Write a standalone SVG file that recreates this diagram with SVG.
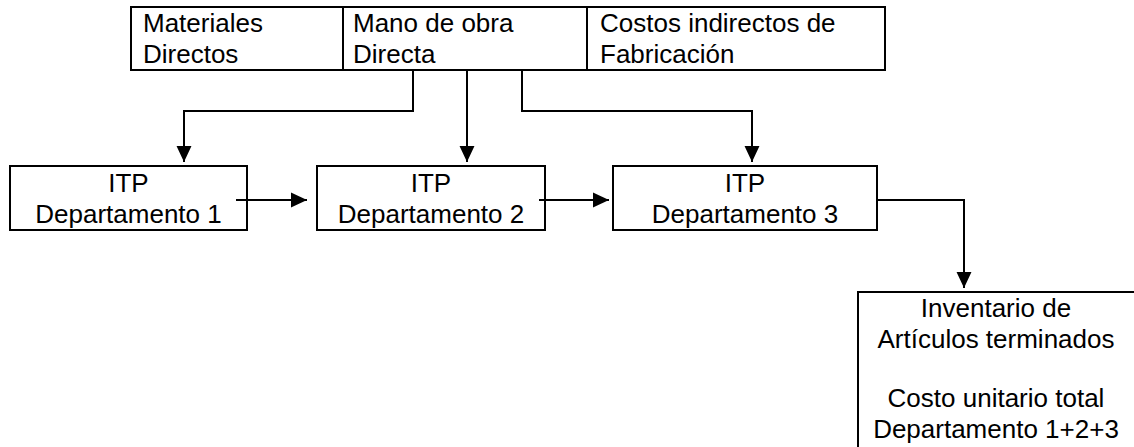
<svg xmlns="http://www.w3.org/2000/svg" width="1134" height="447" viewBox="0 0 1134 447">
<style>
.box{fill:#fff;stroke:#000;stroke-width:2}
.t{font-family:"Liberation Sans",Arial,sans-serif;font-size:26px;fill:#000}
.c{text-anchor:middle}
.ln{fill:none;stroke:#000;stroke-width:2}
</style>
<defs>
<marker id="ah" markerUnits="userSpaceOnUse" markerWidth="16" markerHeight="16" viewBox="0 0 15 14" refX="15" refY="7" orient="auto">
<path d="M0,0 L15,7 L0,14 Z" fill="#000"/>
</marker>
</defs>
<rect width="1134" height="447" fill="#fff"/>
<g id="top">
<rect class="box" x="131" y="7" width="754" height="63"/>
<line class="ln" x1="343" y1="7" x2="343" y2="70"/>
<line class="ln" x1="587" y1="7" x2="587" y2="70"/>
<text class="t" x="143" y="32">Materiales</text>
<text class="t" x="143" y="63">Directos</text>
<text class="t" x="353" y="32">Mano de obra</text>
<text class="t" x="353" y="63">Directa</text>
<text class="t" x="600" y="32">Costos indirectos de</text>
<text class="t" x="600" y="63">Fabricación</text>
</g>
<g id="itp1">
<rect class="box" x="10" y="166" width="237" height="64"/>
<text class="t c" x="128.5" y="192">ITP</text>
<text class="t c" x="128.5" y="223">Departamento 1</text>
</g>
<g id="itp2">
<rect class="box" x="317" y="166" width="228" height="64"/>
<text class="t c" x="431" y="192">ITP</text>
<text class="t c" x="431" y="223">Departamento 2</text>
</g>
<g id="itp3">
<rect class="box" x="613" y="166" width="264" height="64"/>
<text class="t c" x="745" y="192">ITP</text>
<text class="t c" x="745" y="223">Departamento 3</text>
</g>
<g id="inv">
<rect class="box" x="858" y="292" width="290" height="170"/>
<text class="t c" x="996" y="317">Inventario de</text>
<text class="t c" x="996" y="348">Artículos terminados</text>
<text class="t c" x="996" y="407">Costo unitario total</text>
<text class="t c" x="996" y="438">Departamento 1+2+3</text>
</g>
<g id="connectors">
<polyline class="ln" points="413,70 413,111 184,111 184,162" marker-end="url(#ah)"/>
<polyline class="ln" points="467,70 467,162" marker-end="url(#ah)"/>
<polyline class="ln" points="522,70 522,111 752,111 752,162" marker-end="url(#ah)"/>
<polyline class="ln" points="236,200 307,200" marker-end="url(#ah)"/>
<polyline class="ln" points="539,200 609,200" marker-end="url(#ah)"/>
<polyline class="ln" points="877,200 964,200 964,288" marker-end="url(#ah)"/>
</g>
</svg>
